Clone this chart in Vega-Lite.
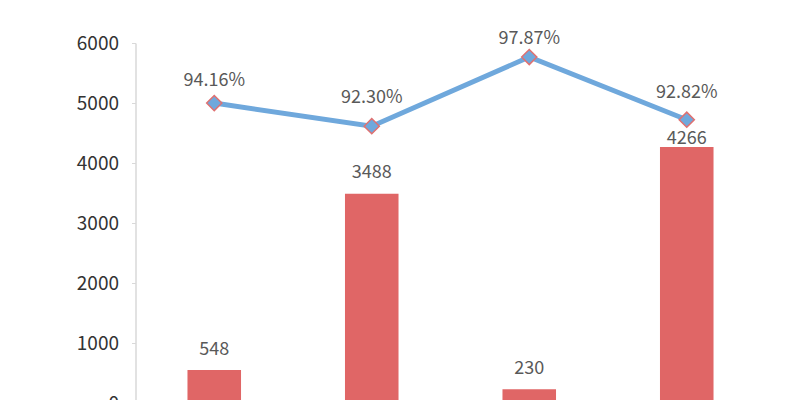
{
  "$schema": "https://vega.github.io/schema/vega-lite/v6.json",
  "width": 630,
  "height": 360,
  "autosize": {"type": "none"},
  "padding": {"left": 135.5, "top": 43, "right": 31.5, "bottom": 0},
  "background": "white",
  "config": {
    "view": {"stroke": null},
    "font": "Noto Sans CJK SC"
  },
  "data": {
    "values": [
      {"cat": "1", "count": 548, "rate": 0.9416},
      {"cat": "2", "count": 3488, "rate": 0.9230},
      {"cat": "3", "count": 230, "rate": 0.9787},
      {"cat": "4", "count": 4266, "rate": 0.9282}
    ]
  },
  "encoding": {
    "x": {
      "field": "cat",
      "type": "nominal",
      "axis": null,
      "scale": {"paddingInner": 0.66, "paddingOuter": 0.33}
    }
  },
  "layer": [
    {
      "layer": [
        {
          "mark": {"type": "bar", "color": "#e06666"},
          "encoding": {
            "y": {
              "field": "count",
              "type": "quantitative",
              "scale": {"domain": [0, 6000], "nice": false},
              "axis": {
                "title": null,
                "values": [0, 1000, 2000, 3000, 4000, 5000, 6000],
                "format": "d",
                "grid": false,
                "domainColor": "#d9d9d9",
                "domainWidth": 1.5,
                "tickColor": "#d9d9d9",
                "tickSize": 4,
                "labelPadding": 13,
                "labelFontSize": 19,
                "labelColor": "#333333",
                "labelFont": "Noto Sans CJK SC"
              }
            }
          }
        },
        {
          "transform": [{"filter": "datum.cat != '4'"}],
          "mark": {"type": "text", "baseline": "alphabetic", "dy": -15.5, "fontSize": 18, "color": "#595959"},
          "encoding": {
            "y": {"field": "count", "type": "quantitative"},
            "text": {"field": "count", "type": "quantitative", "format": "d"}
          }
        },
        {
          "transform": [{"filter": "datum.cat == '4'"}],
          "mark": {"type": "text", "baseline": "alphabetic", "dy": -3, "fontSize": 18, "color": "#595959"},
          "encoding": {
            "y": {"field": "count", "type": "quantitative"},
            "text": {"field": "count", "type": "quantitative", "format": "d"}
          }
        }
      ]
    },
    {
      "layer": [
        {
          "mark": {"type": "line", "color": "#6fa8dc", "strokeWidth": 5},
          "encoding": {
            "y": {
              "field": "rate",
              "type": "quantitative",
              "scale": {"domain": [0.70, 0.99], "nice": false, "zero": false},
              "axis": null
            }
          }
        },
        {
          "mark": {"type": "point", "shape": "diamond", "filled": true, "fill": "#6fa8dc", "stroke": "#e07070", "strokeWidth": 1.5, "size": 230, "opacity": 1},
          "encoding": {
            "y": {"field": "rate", "type": "quantitative", "scale": {"domain": [0.70, 0.99], "nice": false, "zero": false}, "axis": null}
          }
        },
        {
          "transform": [{"filter": "datum.cat == '1'"}],
          "mark": {"type": "text", "baseline": "alphabetic", "dy": -17, "fontSize": 18, "color": "#595959"},
          "encoding": {
            "y": {"field": "rate", "type": "quantitative", "scale": {"domain": [0.70, 0.99], "nice": false, "zero": false}, "axis": null},
            "text": {"field": "rate", "type": "quantitative", "format": ".2%"}
          }
        },
        {
          "transform": [{"filter": "datum.cat == '2'"}],
          "mark": {"type": "text", "baseline": "alphabetic", "dy": -23, "fontSize": 18, "color": "#595959"},
          "encoding": {
            "y": {"field": "rate", "type": "quantitative", "scale": {"domain": [0.70, 0.99], "nice": false, "zero": false}, "axis": null},
            "text": {"field": "rate", "type": "quantitative", "format": ".2%"}
          }
        },
        {
          "transform": [{"filter": "datum.cat == '3'"}],
          "mark": {"type": "text", "baseline": "alphabetic", "dy": -13, "fontSize": 18, "color": "#595959"},
          "encoding": {
            "y": {"field": "rate", "type": "quantitative", "scale": {"domain": [0.70, 0.99], "nice": false, "zero": false}, "axis": null},
            "text": {"field": "rate", "type": "quantitative", "format": ".2%"}
          }
        },
        {
          "transform": [{"filter": "datum.cat == '4'"}],
          "mark": {"type": "text", "baseline": "alphabetic", "dy": -22, "fontSize": 18, "color": "#595959"},
          "encoding": {
            "y": {"field": "rate", "type": "quantitative", "scale": {"domain": [0.70, 0.99], "nice": false, "zero": false}, "axis": null},
            "text": {"field": "rate", "type": "quantitative", "format": ".2%"}
          }
        }
      ]
    }
  ],
  "resolve": {"scale": {"y": "independent"}}
}
